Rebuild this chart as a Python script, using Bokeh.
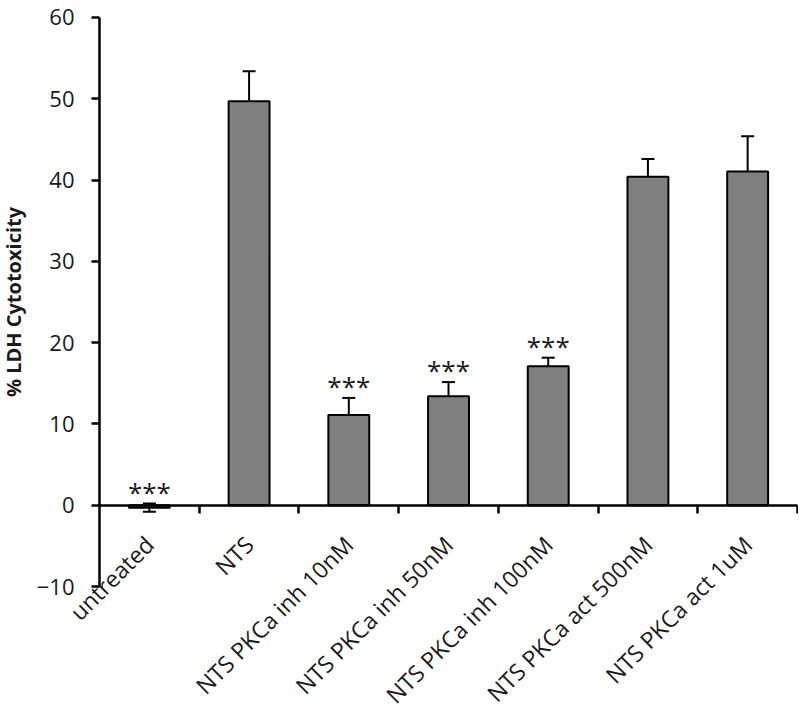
import math
from bokeh.plotting import figure
from bokeh.models import (Range1d, FixedTicker, ColumnDataSource, Whisker, TeeHead,
                          LabelSet)
from bokeh.embed import file_html
from bokeh.resources import INLINE
from bokeh.core.properties import value

categories = ["untreated", "NTS", "NTS PKCa inh 10nM", "NTS PKCa inh 50nM",
              "NTS PKCa inh 100nM", "NTS PKCa act 500nM", "NTS PKCa act 1uM"]
means = [-0.3, 49.7, 11.1, 13.4, 17.1, 40.4, 41.05]
errors = [0.5, 3.7, 2.1, 1.75, 1.05, 2.2, 4.35]
stars = ["***", "", "***", "***", "***", "", ""]
y_ticks = [-10, 0, 10, 20, 30, 40, 50, 60]
y_label = "% LDH Cytotoxicity"

n = len(categories)
xs = [i + 0.5 for i in range(n)]
upper = [m + e for m, e in zip(means, errors)]
lower = [m - e for m, e in zip(means, errors)]
src = ColumnDataSource(dict(x=xs, top=means, upper=upper, lower=lower,
                            cat=categories, stars=stars, zero=[0] * n))

FONT = "Open Sans"
INK = "#1a1a1a"

# the frame fills the canvas; both axes are pinned at data 0 so that
# tick labels and rotated category labels have room around them
p = figure(width=798, height=710, output_backend="svg", toolbar_location=None,
           title=None,
           x_range=Range1d(-0.993, n + 0.01), y_range=Range1d(-25.25, 62.09),
           min_border=0)
p.grid.visible = False
p.outline_line_color = None

# bars
p.vbar(x="x", top="top", bottom=0, width=0.41, source=src,
       fill_color="#808080", line_color="black", line_width=2)

# error bars
p.add_layout(Whisker(base="x", upper="upper", lower="lower", source=src,
                     dimension="height", line_color="black", line_width=2,
                     upper_head=TeeHead(size=13, line_color="black", line_width=2),
                     lower_head=TeeHead(size=13, line_color="black", line_width=2)))

# significance stars
p.text(x="x", y="upper", text="stars", source=src, text_align="center",
       text_baseline="bottom", y_offset=6, text_font=value(FONT),
       text_font_size="26px", text_color=INK)

# y axis, pinned at x = 0
ya = p.yaxis[0]
ya.fixed_location = 0
ya.bounds = (y_ticks[0], y_ticks[-1])
ya.ticker = FixedTicker(ticks=y_ticks)
ya.axis_line_width = 2.5
ya.major_tick_line_width = 2.5
ya.major_tick_out = 8
ya.major_tick_in = 0
ya.minor_tick_line_color = None
ya.major_label_text_font = FONT
ya.major_label_text_font_size = "22px"
ya.major_label_text_color = INK
ya.major_label_standoff = 17
ya.axis_label = y_label
ya.axis_label_text_font = FONT
ya.axis_label_text_font_size = "20px"
ya.axis_label_text_font_style = "bold"
ya.axis_label_text_color = INK
ya.axis_label_standoff = 7

# x axis pinned at y = 0, ticks at category boundaries
xa = p.xaxis[0]
xa.fixed_location = 0
xa.bounds = (0, n)
bounds = list(range(1, n + 1))
xa.ticker = FixedTicker(ticks=bounds)
xa.major_label_overrides = {b: "" for b in bounds}
xa.axis_line_width = 2.5
xa.major_tick_line_width = 2.5
xa.major_tick_out = 8
xa.major_tick_in = 0
xa.minor_tick_line_color = None

# category labels
p.add_layout(LabelSet(x="x", y="zero", text="cat", source=src, angle=math.pi / 4,
                      text_align="right", text_baseline="middle", y_offset=-35,
                      text_font=value(FONT), text_font_size="23px", text_color=INK))

open("out.html", "w").write(file_html(p, INLINE))
